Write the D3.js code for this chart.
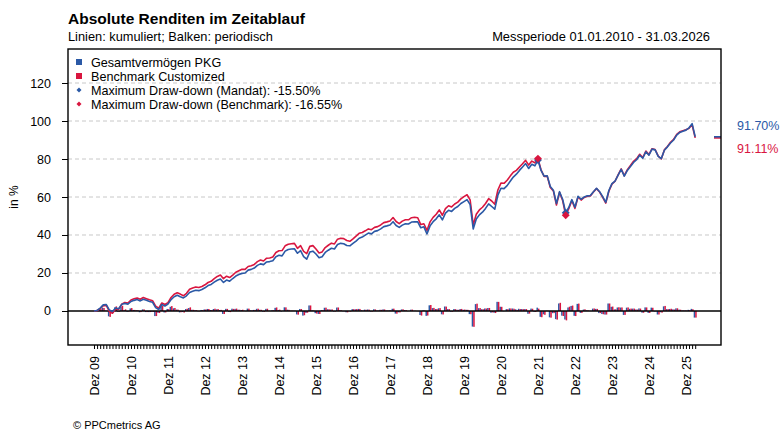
<!DOCTYPE html>
<html>
<head>
<meta charset="utf-8">
<script src="https://cdn.jsdelivr.net/npm/d3@7"></script>
<style>
  body { margin: 0; background: #fff; }
  svg { display: block; font-family: Arial, "Liberation Sans", sans-serif; }
</style>
</head>
<body>
<svg id="chart" width="780" height="430"></svg>
<script>
"use strict";

// x labels (one per December, month index 0 = Dez 09)
const yearLabels = ["Dez 09", "Dez 10", "Dez 11", "Dez 12", "Dez 13", "Dez 14", "Dez 15", "Dez 16",
    "Dez 17", "Dez 18", "Dez 19", "Dez 20", "Dez 21", "Dez 22", "Dez 23", "Dez 24", "Dez 25"];

const yTicks = [0, 20, 40, 60, 80, 100, 120];

// cumulative return in %, month end, Dez 2009 .. Mar 2026
const mandat = [
    0, 0.3, 1.5, 3.2, 3.4, 0.5, -0.3, 1.6, 1.2, 3.5, 4.0, 3.6, 5.0,       // Dez 09, 2010
    5.6, 6.0, 5.3, 6.2, 5.6, 5.0, 4.6, 1.8, 0.8, 3.4, 2.6, 3.7,            // 2011
    6.0, 7.5, 8.3, 7.5, 6.9, 8.0, 9.7, 10.4, 10.9, 10.7, 11.3, 12.2,       // 2012
    13.4, 14.0, 15.2, 16.2, 16.8, 15.0, 16.3, 15.7, 17.1, 18.4, 19.2, 19.8, // 2013
    20.0, 21.5, 21.9, 22.6, 24.0, 24.8, 24.4, 25.8, 26.0, 26.5, 28.6, 29.3, // 2014
    29.0, 31.5, 32.4, 32.6, 32.8, 30.4, 31.8, 28.6, 27.3, 31.0, 31.5, 30.0, // 2015
    28.0, 28.6, 30.8, 32.0, 33.0, 32.6, 35.0, 35.6, 35.4, 34.5, 34.3, 35.6, // 2016
    36.8, 38.3, 38.9, 39.9, 41.0, 40.6, 41.9, 42.3, 43.2, 44.4, 44.8, 45.3, // 2017
    47.0, 45.0, 44.0, 45.2, 45.9, 45.8, 46.8, 47.0, 46.9, 43.8, 44.3, 40.6, // 2018
    44.8, 47.0, 48.5, 50.6, 48.0, 51.5, 53.0, 52.4, 54.0, 55.0, 56.6, 57.6, // 2019
    58.6, 56.0, 43.2, 48.4, 50.6, 52.0, 54.0, 56.4, 55.0, 53.6, 61.0, 64.6, // 2020
    64.4, 66.0, 68.3, 70.5, 72.0, 74.0, 75.8, 77.6, 75.0, 77.2, 76.4, 79.5, // 2021
    74.0, 71.0, 71.2, 65.5, 63.6, 56.6, 62.8, 58.8, 51.7, 54.5, 58.6, 54.6, // 2022
    60.4, 58.8, 60.0, 60.6, 60.8, 62.8, 64.6, 62.8, 60.2, 57.2, 63.4, 67.0, // 2023
    68.4, 71.5, 74.6, 71.0, 74.0, 76.0, 78.2, 79.6, 82.0, 80.4, 83.8, 82.0, // 2024
    85.2, 84.8, 81.4, 80.2, 84.6, 86.4, 88.4, 90.0, 92.6, 94.0, 94.6, 95.2, // 2025
    96.4, 98.6, 91.70                                                       // 2026
];

const benchmark = [
    0, 0.2, 1.2, 2.8, 2.9, -0.3, -1.2, 1.2, 0.8, 3.6, 4.5, 4.2, 5.8,
    6.4, 6.8, 6.2, 7.1, 6.5, 5.9, 5.4, 2.6, 1.5, 4.2, 3.4, 4.4,
    7.1, 8.8, 9.6, 8.9, 8.0, 9.3, 11.4, 12.1, 12.6, 12.4, 12.9, 13.8,
    15.0, 15.6, 17.0, 18.2, 18.9, 17.0, 18.3, 17.6, 18.9, 20.4, 21.2, 22.0,
    21.9, 23.4, 23.8, 24.5, 26.0, 26.8, 26.3, 27.8, 27.9, 28.4, 30.8, 31.7,
    31.8, 34.3, 35.1, 35.4, 35.6, 33.0, 34.4, 31.4, 30.2, 34.0, 34.4, 32.6,
    30.5, 31.1, 33.4, 34.6, 35.7, 35.3, 37.8, 38.3, 38.1, 37.1, 36.7, 38.0,
    39.4, 40.9, 41.3, 42.2, 43.2, 42.8, 44.0, 44.4, 45.3, 46.5, 46.9, 47.4,
    49.2, 47.1, 46.0, 47.3, 48.0, 48.0, 49.1, 49.3, 49.1, 45.5, 45.9, 42.4,
    46.9, 49.3, 50.9, 53.2, 50.4, 53.9, 55.4, 54.8, 56.3, 57.3, 59.0, 60.2,
    61.2, 58.5, 45.3, 50.9, 53.2, 54.6, 56.6, 59.1, 57.9, 56.2, 63.7, 67.3,
    67.2, 68.8, 71.0, 73.0, 74.0, 75.8, 77.5, 79.3, 76.8, 78.9, 78.0, 80.2,
    74.3, 70.8, 71.0, 65.0, 63.2, 55.8, 62.5, 58.2, 50.4, 53.8, 58.2, 54.0,
    60.0, 58.4, 59.8, 60.4, 60.5, 62.6, 64.4, 62.6, 59.8, 56.8, 63.0, 66.8,
    68.3, 71.6, 74.8, 71.2, 74.4, 76.6, 78.8, 80.2, 82.5, 80.8, 84.2, 82.3,
    85.4, 85.0, 81.6, 80.0, 84.8, 86.6, 88.8, 90.3, 93.0, 94.3, 94.9, 95.4,
    96.2, 98.0, 91.11
];

// max draw-down: peak and trough month index
const drawdownMandat = [144, 153];
const drawdownBenchmark = [144, 153];

const legendItems = [
    { label: "Gesamtvermögen PKG", color: "#2b59a6", shape: "square" },
    { label: "Benchmark Customized", color: "#d9163f", shape: "square" },
    { label: "Maximum Draw-down (Mandat): -15.50%", color: "#2b59a6", shape: "diamond" },
    { label: "Maximum Draw-down (Benchmark): -16.55%", color: "#d9163f", shape: "diamond" }
];

const BLUE = "#2b59a6";
const RED = "#d9163f";

const svg = d3.select("#chart");

const margin = { left: 68, right: 59, top: 49, bottom: 85 };
const width = 780 - margin.left - margin.right;
const height = 430 - margin.top - margin.bottom;

// month index scale (ticks run from Dez 09 to Mar 26, frame a bit wider)
const x = d3.scaleLinear().domain([-8.43, 203.37]).range([margin.left, margin.left + width]);
const y = d3.scaleLinear().domain([-17.9, 137.9]).range([margin.top + height, margin.top]);

// periodic (monthly) returns from the cumulative series
function periodic(series) {
    return series.map((v, i) => i === 0 ? 0 : ((1 + v / 100) / (1 + series[i - 1] / 100) - 1) * 100);
}
const barsMandat = periodic(mandat);
const barsBench = periodic(benchmark);

// titles
svg.append("text")
    .attr("x", 68).attr("y", 24)
    .style("font-size", "15.5px").style("font-weight", "bold")
    .text("Absolute Renditen im Zeitablauf");
svg.append("text")
    .attr("x", 68).attr("y", 41)
    .style("font-size", "12.8px")
    .text("Linien: kumuliert; Balken: periodisch");
svg.append("text")
    .attr("x", 710).attr("y", 41)
    .attr("text-anchor", "end")
    .style("font-size", "12.9px")
    .text("Messperiode 01.01.2010 - 31.03.2026");

// gridlines
svg.append("g")
    .selectAll("line")
    .data(yTicks.filter(d => d !== 0))
    .enter().append("line")
    .attr("x1", margin.left).attr("x2", margin.left + width)
    .attr("y1", d => y(d)).attr("y2", d => y(d))
    .attr("stroke", "#c8c8c8")
    .attr("stroke-width", 1)
    .attr("stroke-dasharray", "4,3");

// bars
const bw = 1.5;
const bars = svg.append("g");
bars.selectAll("rect.m")
    .data(barsMandat.slice(1))
    .enter().append("rect")
    .attr("class", "m")
    .attr("x", (d, i) => x(i + 1) - bw)
    .attr("width", bw)
    .attr("y", d => Math.min(y(d), y(0)))
    .attr("height", d => Math.abs(y(d) - y(0)))
    .attr("fill", BLUE);
bars.selectAll("rect.b")
    .data(barsBench.slice(1))
    .enter().append("rect")
    .attr("class", "b")
    .attr("x", (d, i) => x(i + 1))
    .attr("width", bw)
    .attr("y", d => Math.min(y(d), y(0)))
    .attr("height", d => Math.abs(y(d) - y(0)))
    .attr("fill", RED);

// zero line
svg.append("line")
    .attr("x1", margin.left).attr("x2", margin.left + width)
    .attr("y1", y(0)).attr("y2", y(0))
    .attr("stroke", "#000").attr("stroke-width", 1.5);

// lines
const line = d3.line()
    .x((d, i) => x(i))
    .y(d => y(d));
svg.append("path")
    .datum(benchmark)
    .attr("d", line)
    .attr("fill", "none")
    .attr("stroke", RED)
    .attr("stroke-width", 1.6)
    .attr("stroke-linejoin", "round");
svg.append("path")
    .datum(mandat)
    .attr("d", line)
    .attr("fill", "none")
    .attr("stroke", BLUE)
    .attr("stroke-width", 1.6)
    .attr("stroke-linejoin", "round");

// draw-down markers
const diamond = d3.symbol().type(d3.symbolDiamond2);
svg.append("g")
    .selectAll("path")
    .data(drawdownMandat)
    .enter().append("path")
    .attr("d", diamond.size(40)())
    .attr("transform", d => "translate(" + x(d) + "," + y(mandat[d]) + ")")
    .attr("fill", BLUE);
svg.append("g")
    .selectAll("path")
    .data(drawdownBenchmark)
    .enter().append("path")
    .attr("d", diamond.size(40)())
    .attr("transform", d => "translate(" + x(d) + "," + y(benchmark[d]) + ")")
    .attr("fill", RED);

// last value markers at the right edge
const lastM = mandat[mandat.length - 1];
const lastB = benchmark[benchmark.length - 1];
svg.append("line")
    .attr("x1", margin.left + width - 7).attr("x2", margin.left + width)
    .attr("y1", y(lastB)).attr("y2", y(lastB))
    .attr("stroke", RED).attr("stroke-width", 1.6);
svg.append("line")
    .attr("x1", margin.left + width - 7).attr("x2", margin.left + width)
    .attr("y1", y(lastM)).attr("y2", y(lastM))
    .attr("stroke", BLUE).attr("stroke-width", 1.6);
svg.append("text")
    .attr("x", 737).attr("y", 129.5)
    .style("font-size", "12.5px").attr("fill", BLUE)
    .text(lastM.toFixed(2) + "%");
svg.append("text")
    .attr("x", 737).attr("y", 153)
    .style("font-size", "12.5px").attr("fill", RED)
    .text(lastB.toFixed(2) + "%");

// frame
svg.append("rect")
    .attr("x", margin.left).attr("y", margin.top)
    .attr("width", width).attr("height", height)
    .attr("fill", "none").attr("stroke", "#000").attr("stroke-width", 1.4);

// y axis
const yAxis = svg.append("g")
    .attr("transform", "translate(" + margin.left + ",0)")
    .call(d3.axisLeft(y).tickValues(yTicks).tickSize(6).tickPadding(11));
yAxis.select(".domain").remove();
yAxis.selectAll("text").style("font-size", "12.5px").attr("fill", "#000").style("font-family", "Arial, 'Liberation Sans', sans-serif");
yAxis.selectAll("line").attr("stroke", "#000");

svg.append("text")
    .attr("transform", "translate(18,197) rotate(-90)")
    .attr("text-anchor", "middle")
    .style("font-size", "12px")
    .text("in %");

// x axis: monthly minor ticks, December labels
const xAxis = svg.append("g")
    .attr("transform", "translate(0," + (margin.top + height) + ")")
    .call(d3.axisBottom(x).tickValues(d3.range(0, mandat.length)).tickSize(4).tickFormat(""));
xAxis.select(".domain").remove();
xAxis.selectAll("line").attr("stroke", "#000");

svg.append("g")
    .selectAll("text")
    .data(yearLabels)
    .enter().append("text")
    .attr("transform", (d, i) => "translate(" + (x(i * 12) + 5) + "," + 356 + ") rotate(-90)")
    .attr("text-anchor", "end")
    .style("font-size", "12.5px")
    .text(d => d);

// legend
const legend = svg.append("g");
legendItems.forEach((d, i) => {
    const cy = 62 + i * 14;
    if (d.shape === "square") {
        legend.append("rect")
            .attr("x", 76).attr("y", cy - 3).attr("width", 6).attr("height", 6)
            .attr("fill", d.color);
    } else {
        legend.append("path")
            .attr("d", d3.symbol().type(d3.symbolDiamond2).size(16)())
            .attr("transform", "translate(79," + cy + ")")
            .attr("fill", d.color);
    }
    legend.append("text")
        .attr("x", 91).attr("y", cy + 4.5)
        .style("font-size", "12.6px")
        .text(d.label);
});

svg.append("text")
    .attr("x", 73).attr("y", 429)
    .style("font-size", "11px")
    .text("© PPCmetrics AG");
</script>
</body>
</html>
